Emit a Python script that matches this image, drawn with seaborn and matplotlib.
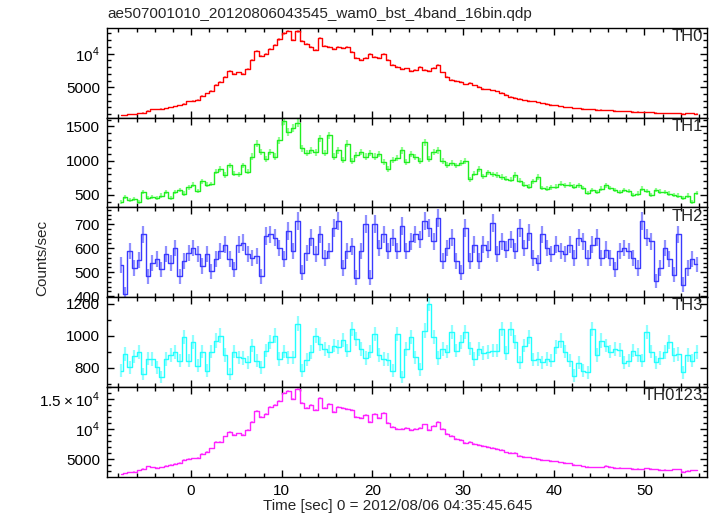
import numpy as np
import matplotlib
matplotlib.use("Agg")
import matplotlib.pyplot as plt
from matplotlib.ticker import MultipleLocator, FixedLocator, FixedFormatter
import seaborn as sns

# light curve, 0.5 s bins starting at t = -7.75 s
TIME_START = -7.75
BIN_WIDTH = 0.5

th0 = [850, 900, 950, 1000, 1100, 1200, 1500, 1700, 1700, 1800, 1900, 2000, 2150, 2350, 2550, 2900,
       3000, 3100, 3700, 4100, 4500, 5400, 5800, 6500, 7400, 7000, 7200, 7000, 7700, 9000, 10400, 9600,
       10000, 10700, 11300, 12100, 13000, 13350, 12000, 13300, 11900, 11400, 11000, 10600, 12300, 11200, 11000, 10700,
       11000, 10800, 11000, 10200, 9400, 9100, 9300, 9900, 9500, 9400, 10000, 9000, 8300, 8000, 7700, 7800,
       7400, 7600, 8000, 7600, 7400, 7900, 8300, 7200, 6500, 6100, 6000, 5800, 5450, 5700, 5300, 5100,
       4800, 4700, 4550, 4400, 4150, 3900, 3550, 3400, 3300, 3050, 3000, 2900, 2800, 2650, 2550, 2400,
       2350, 2200, 2050, 2000, 1900, 1850, 1800, 1750, 1700, 1650, 1680, 1600, 1550, 1500, 1450, 1420,
       1400, 1380, 1350, 1300, 1280, 1250, 1220, 1180, 1150, 1130, 1120, 1100, 1080, 1100, 1150, 1080]

th1 = [400, 470, 420, 440, 400, 540, 450, 470, 460, 490, 540, 460, 545, 570, 520, 610,
       650, 560, 700, 650, 660, 840, 880, 790, 930, 810, 800, 930, 840, 1060, 1250, 1130,
       1030, 1130, 1060, 1300, 1580, 1420, 1480, 1550, 1180, 1110, 1150, 1120, 1330, 1110, 1370, 1060,
       1150, 1010, 1250, 990, 1080, 1130, 1060, 1110, 1060, 1100, 980, 880, 1010, 1040, 1150, 980,
       1100, 1050, 990, 1270, 1030, 1130, 1150, 990, 940, 960, 930, 960, 990, 730, 810, 880,
       770, 830, 800, 790, 760, 740, 720, 790, 710, 650, 620, 700, 760, 600, 590, 610,
       620, 665, 640, 650, 620, 640, 600, 530, 570, 545, 590, 640, 600, 570, 545, 570,
       560, 500, 520, 590, 560, 500, 570, 550, 540, 520, 500, 490, 450, 490, 400, 530]

th2 = [530, 410, 587, 518, 550, 657, 483, 539, 553, 511, 574, 539, 601, 483, 546, 580,
       600, 574, 525, 574, 504, 553, 587, 615, 553, 511, 615, 622, 574, 560, 567, 483,
       650, 657, 643, 600, 553, 671, 587, 713, 497, 580, 643, 574, 657, 560, 587, 685,
       713, 518, 587, 608, 477, 587, 699, 477, 699, 601, 657, 587, 643, 587, 692, 587,
       629, 657, 636, 713, 685, 629, 726, 546, 601, 643, 546, 497, 685, 546, 615, 546,
       615, 594, 706, 574, 629, 594, 636, 587, 685, 601, 664, 560, 539, 657, 601, 574,
       615, 587, 574, 615, 560, 643, 629, 560, 615, 643, 560, 594, 560, 511, 587, 600,
       587, 560, 518, 713, 643, 629, 463, 518, 601, 553, 490, 657, 448, 518, 553, 532]

th3 = [782, 886, 802, 870, 896, 761, 855, 854, 802, 740, 854, 880, 896, 844, 990, 844,
       958, 813, 900, 782, 900, 969, 1000, 880, 761, 900, 865, 860, 834, 938, 844, 802,
       906, 960, 1000, 854, 900, 865, 865, 1073, 782, 850, 896, 1000, 948, 917, 900, 938,
       927, 970, 906, 1040, 980, 917, 860, 900, 1010, 880, 854, 850, 782, 1010, 740, 917,
       990, 865, 790, 1031, 1200, 990, 860, 917, 900, 1021, 906, 960, 1021, 920, 854, 917,
       890, 896, 906, 906, 1040, 890, 1042, 960, 834, 938, 990, 850, 854, 834, 854, 844,
       930, 969, 900, 844, 750, 830, 782, 771, 1042, 880, 969, 938, 900, 917, 910, 830,
       844, 906, 880, 844, 1021, 900, 834, 860, 896, 958, 880, 886, 771, 880, 844, 896]

th0123 = [2540, 2650, 2800, 2950, 3150, 3400, 3800, 3650, 3550, 3700, 3900, 4050, 4250, 4400, 4900, 5050,
          5150, 5200, 5900, 6200, 6800, 7900, 7900, 8800, 9600, 9000, 9300, 9100, 9900, 11200, 13000, 12000,
          12600, 13700, 14000, 14700, 16000, 16400, 15000, 16700, 14300, 13500, 14100, 13200, 15200, 13600, 14200, 12900,
          13700, 13500, 13400, 13200, 12100, 11900, 12300, 11200, 12600, 11800, 12700, 11000, 10400, 10100, 10000, 10150,
          9950, 10000, 10200, 10800, 9900, 10500, 11200, 10100, 9200, 8900, 8400, 8250, 7700, 7950, 7600, 7350,
          7200, 7100, 6900, 6750, 6600, 6150, 6100, 6100, 5600, 5450, 5350, 5150, 5050, 4900, 4800, 4700,
          4650, 4500, 4400, 4300, 4100, 4000, 3850, 3750, 3700, 3650, 3700, 3900, 3750, 3550, 3550, 3500,
          3480, 3450, 3400, 3370, 3480, 3400, 3300, 3260, 3230, 3200, 3300, 3350, 2950, 3100, 3150, 3200]

bands = ["TH0", "TH1", "TH2", "TH3", "TH0123"]
rates = [th0, th1, th2, th3, th0123]

line_colors = ["#ff0000", "#22ee22", "#3a3aff", "#22ffff", "#ff22ff"]
err_colors = ["#ff9090", "#90ff90", "#9090ff", "#90ffff", "#ff90ff"]
ylims = [(500, 13850), (320, 1630), (396, 770), (680, 1240), (2100, 17050)]
major_steps = [5000, 500, 100, 200, 5000]
minor_steps = [1000, 100, 20, 100, 1000]

sns.set_theme(style="ticks")
plt.rcParams["font.family"] = ["Liberation Sans", "DejaVu Sans"]
plt.rcParams["mathtext.fontset"] = "custom"
plt.rcParams["mathtext.rm"] = "Liberation Sans"
plt.rcParams["font.size"] = 11

time = TIME_START + BIN_WIDTH * np.arange(len(th0))

fig, axes = plt.subplots(5, 1, sharex=True, figsize=(7.17, 5.16), dpi=100,
                         gridspec_kw=dict(hspace=0))
fig.subplots_adjust(left=0.1492, right=0.9861, top=0.9463, bottom=0.0762)

for i, ax in enumerate(axes):
    y = np.array(rates[i], dtype=float)
    err = np.sqrt(y / BIN_WIDTH)
    ax.errorbar(time, y, yerr=err, fmt="none", ecolor=err_colors[i], elinewidth=1.6, capsize=0)
    sns.lineplot(x=time, y=y, ax=ax, color=line_colors[i], drawstyle="steps-mid",
                 linewidth=1.0, estimator=None)
    ax.set_ylim(*ylims[i])
    ax.set_xlim(-9.26, 56.9)
    ax.yaxis.set_major_locator(MultipleLocator(major_steps[i]))
    ax.yaxis.set_minor_locator(MultipleLocator(minor_steps[i]))
    ax.xaxis.set_major_locator(MultipleLocator(10))
    ax.xaxis.set_minor_locator(MultipleLocator(2))
    ax.tick_params(which="both", direction="in", top=True, right=True, width=1.0,
                   colors="black", labelsize=11, pad=5)
    ax.tick_params(which="major", length=5)
    ax.tick_params(which="minor", length=3)
    for sp in ax.spines.values():
        sp.set_linewidth(1.0)
        sp.set_color("black")
    ax.set_ylabel("")
    ax.set_xlabel("")
    ax.text(0.993, 0.985, bands[i], transform=ax.transAxes, ha="right", va="top", fontsize=12)

# scientific-looking labels like the qdp output
axes[0].yaxis.set_major_locator(FixedLocator([5000, 10000]))
axes[0].yaxis.set_major_formatter(FixedFormatter(["5000", "$10^4$"]))
axes[4].yaxis.set_major_locator(FixedLocator([5000, 10000, 15000]))
axes[4].yaxis.set_major_formatter(FixedFormatter(["5000", "$10^4$", "$1.5\\times10^4$"]))
axes[3].yaxis.set_major_locator(FixedLocator([800, 1000, 1200]))

fig.text(107 / 717, 1 - 14 / 516, "ae507001010_20120806043545_wam0_bst_4band_16bin.qdp",
         ha="left", va="center", fontsize=11)
fig.text(42 / 717, 1 - 258 / 516, "Counts/sec", rotation=90, ha="center", va="center", fontsize=11)
fig.text(398 / 717, 1 - 506 / 516, "Time [sec] 0 = 2012/08/06 04:35:45.645",
         ha="center", va="center", fontsize=11)

fig.savefig("out.png", dpi=100)
